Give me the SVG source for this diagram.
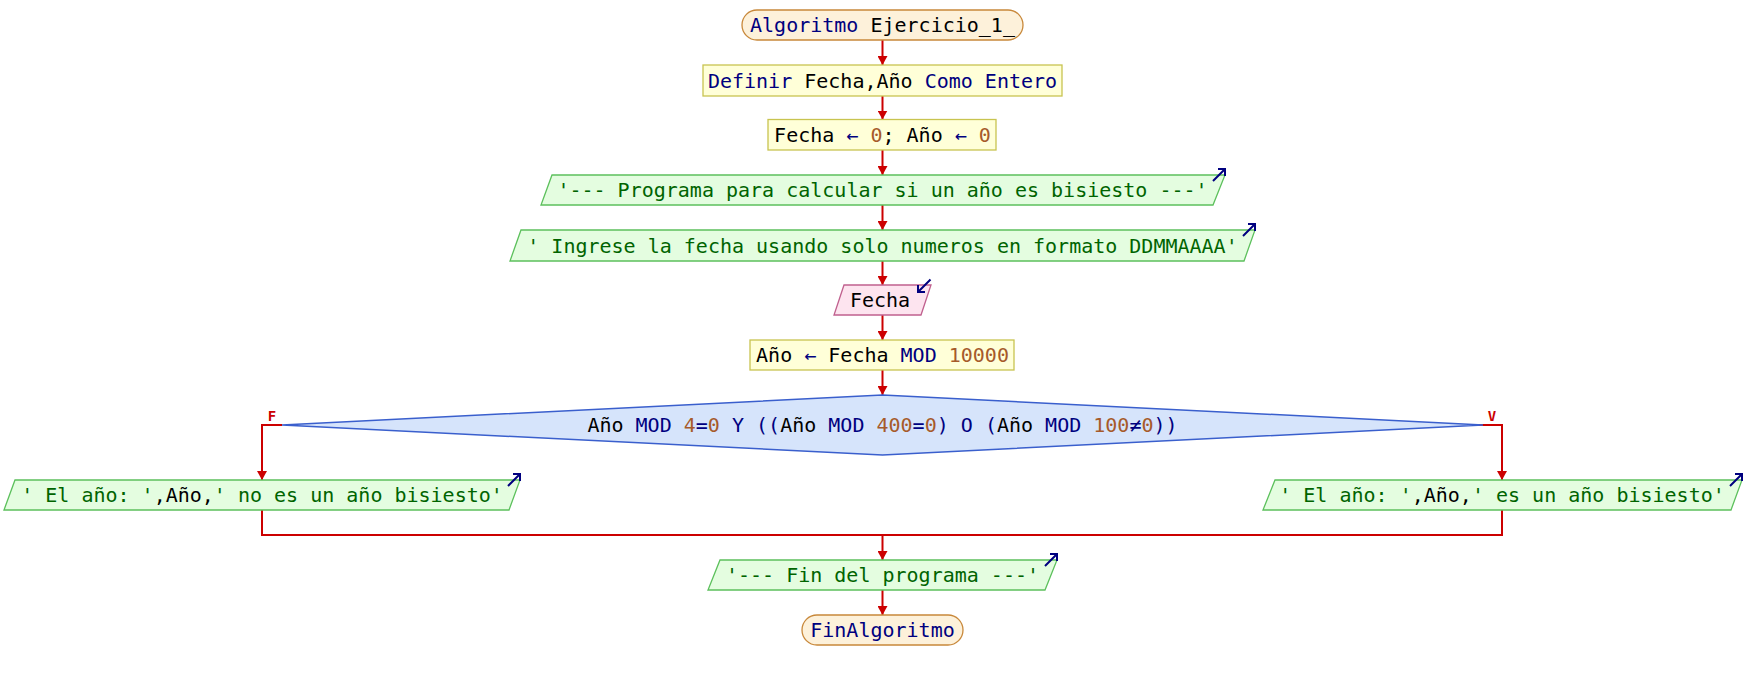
<svg xmlns="http://www.w3.org/2000/svg" width="1746" height="680" viewBox="0 0 1746 680">
<style>
text{font-family:"DejaVu Sans Mono","Liberation Mono",monospace;font-size:20px;fill:#000;white-space:pre}
.kw{fill:#00007f}.num{fill:#a65a2a}.str{fill:#006400}
.term{fill:#fdf1da;stroke:#c8883a;stroke-width:1.3}
.proc{fill:#ffffd8;stroke:#c8c450;stroke-width:1.3}
.out{fill:#e4fde0;stroke:#5cc05c;stroke-width:1.3}
.inp{fill:#fde4ef;stroke:#c0608e;stroke-width:1.3}
.dec{fill:#d6e4fb;stroke:#3a5fcd;stroke-width:1.5}
.flow{fill:none;stroke:#cc0000;stroke-width:2}
.icon{fill:none;stroke:#00007f;stroke-width:2}
.lbl{font-size:14px;font-weight:bold;fill:#cc0000}
</style>
<defs>
<marker id="ah" markerWidth="9" markerHeight="10" refX="9" refY="5" orient="auto" markerUnits="userSpaceOnUse">
<path d="M0,0 L9,5 L0,10 z" fill="#cc0000"/>
</marker>
</defs>
<rect width="1746" height="680" fill="#fff"/>
<g id="connectors">
<line class="flow" x1="882.5" y1="40" x2="882.5" y2="65" marker-end="url(#ah)"/>
<line class="flow" x1="882.5" y1="96" x2="882.5" y2="119.5" marker-end="url(#ah)"/>
<line class="flow" x1="882.5" y1="150" x2="882.5" y2="175" marker-end="url(#ah)"/>
<line class="flow" x1="882.5" y1="205" x2="882.5" y2="230" marker-end="url(#ah)"/>
<line class="flow" x1="882.5" y1="261" x2="882.5" y2="285" marker-end="url(#ah)"/>
<line class="flow" x1="882.5" y1="315" x2="882.5" y2="340" marker-end="url(#ah)"/>
<line class="flow" x1="882.5" y1="370" x2="882.5" y2="395" marker-end="url(#ah)"/>
<polyline class="flow" points="282,425 262,425 262,480" marker-end="url(#ah)"/>
<polyline class="flow" points="1473,425 1502,425 1502,480" marker-end="url(#ah)"/>
<polyline class="flow" points="262,510 262,535 1502,535 1502,510"/>
<line class="flow" x1="882.5" y1="535" x2="882.5" y2="560" marker-end="url(#ah)"/>
<line class="flow" x1="882.5" y1="590" x2="882.5" y2="615" marker-end="url(#ah)"/>
<text class="lbl" x="272" y="421" text-anchor="middle">F</text>
<text class="lbl" x="1492" y="421" text-anchor="middle">V</text>
</g>
<g id="start">
<rect class="term" x="742" y="10" width="281" height="30" rx="15"/>
<text x="882.5" y="32" text-anchor="middle"><tspan class="kw">Algoritmo</tspan> Ejercicio_1_</text>
</g>
<g id="definir">
<rect class="proc" x="703" y="65" width="359" height="31"/>
<text x="882.5" y="88" text-anchor="middle"><tspan class="kw">Definir</tspan> Fecha,Año <tspan class="kw">Como Entero</tspan></text>
</g>
<g id="init">
<rect class="proc" x="768" y="119.5" width="228" height="30.5"/>
<text x="882.5" y="142" text-anchor="middle">Fecha <tspan class="kw">←</tspan> <tspan class="num">0</tspan>; Año <tspan class="kw">←</tspan> <tspan class="num">0</tspan></text>
</g>
<g id="out1">
<polygon class="out" points="552,175 1225,175 1213,205 541,205"/>
<text x="882.5" y="197" text-anchor="middle" class="str">'--- Programa para calcular si un año es bisiesto ---'</text>
<path class="icon" d="M1213,181 L1225,169 M1218,169 L1225,169 L1225,176"/>
</g>
<g id="out2">
<polygon class="out" points="521,230 1255,230 1244,261 510,261"/>
<text x="882.5" y="253" text-anchor="middle" class="str">' Ingrese la fecha usando solo numeros en formato DDMMAAAA'</text>
<path class="icon" d="M1243,236 L1255,224 M1248,224 L1255,224 L1255,231"/>
</g>
<g id="leer">
<polygon class="inp" points="844,285 931,285 921,315 834,315"/>
<text x="880" y="307" text-anchor="middle">Fecha</text>
<path class="icon" d="M930.5,279.5 L918,292 M918,285 L918,292 L925,292"/>
</g>
<g id="calc">
<rect class="proc" x="750" y="340" width="264" height="30"/>
<text x="882.5" y="362" text-anchor="middle">Año <tspan class="kw">←</tspan> Fecha <tspan class="kw">MOD</tspan> <tspan class="num">10000</tspan></text>
</g>
<g id="decision">
<polygon class="dec" points="882.5,395 1483,425 882.5,455 282,425"/>
<text x="882.5" y="432" text-anchor="middle">Año <tspan class="kw">MOD</tspan> <tspan class="num">4</tspan><tspan class="kw">=</tspan><tspan class="num">0</tspan> <tspan class="kw">Y</tspan> <tspan class="kw">((</tspan>Año <tspan class="kw">MOD</tspan> <tspan class="num">400</tspan><tspan class="kw">=</tspan><tspan class="num">0</tspan><tspan class="kw">)</tspan> <tspan class="kw">O</tspan> <tspan class="kw">(</tspan>Año <tspan class="kw">MOD</tspan> <tspan class="num">100</tspan><tspan class="kw">≠</tspan><tspan class="num">0</tspan><tspan class="kw">))</tspan></text>
</g>
<g id="outNo">
<polygon class="out" points="15,480 520,480 509,510 4,510"/>
<text x="262" y="502" text-anchor="middle"><tspan class="str">' El año: '</tspan>,Año,<tspan class="str">' no es un año bisiesto'</tspan></text>
<path class="icon" d="M508,486 L520,474 M513,474 L520,474 L520,481"/>
</g>
<g id="outYes">
<polygon class="out" points="1275,480 1742,480 1731,510 1263,510"/>
<text x="1502" y="502" text-anchor="middle"><tspan class="str">' El año: '</tspan>,Año,<tspan class="str">' es un año bisiesto'</tspan></text>
<path class="icon" d="M1730,486 L1742,474 M1735,474 L1742,474 L1742,481"/>
</g>
<g id="out3">
<polygon class="out" points="720,560 1057,560 1045,590 708,590"/>
<text x="882.5" y="582" text-anchor="middle" class="str">'--- Fin del programa ---'</text>
<path class="icon" d="M1045,566 L1057,554 M1050,554 L1057,554 L1057,561"/>
</g>
<g id="end">
<rect class="term" x="802" y="615" width="161" height="30" rx="15"/>
<text x="882.5" y="637" text-anchor="middle" class="kw">FinAlgoritmo</text>
</g>
</svg>
